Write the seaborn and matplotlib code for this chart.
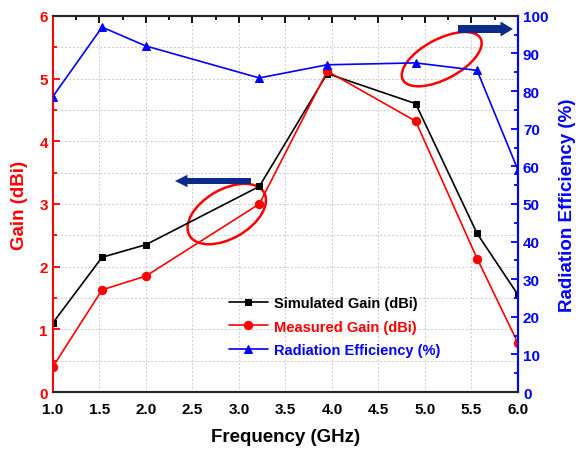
import numpy as np
import pandas as pd
import seaborn as sns
import matplotlib.pyplot as plt
import matplotlib.transforms as mtransforms
from matplotlib.patches import Ellipse

freq = [1.0, 1.53, 2.0, 3.22, 3.95, 4.9, 5.56, 6.0]
sim_gain = [1.1, 2.15, 2.35, 3.28, 5.08, 4.6, 2.53, 1.55]
meas_gain = [0.4, 1.63, 1.85, 3.0, 5.12, 4.32, 2.13, 0.78]
efficiency = [78.5, 97.0, 92.0, 83.5, 87.0, 87.5, 85.5, 59.0]

sns.set_style("white")
plt.rcParams['font.family'] = ['Liberation Sans', 'DejaVu Sans']
plt.rcParams['font.weight'] = 'bold'

fig = plt.figure(figsize=(5.86, 4.56), dpi=100)
ax = fig.add_axes([0.090, 0.138, 0.794, 0.825])
ax2 = ax.twinx()

df = pd.DataFrame({'f': freq, 'sim': sim_gain, 'meas': meas_gain, 'eff': efficiency})
sns.lineplot(data=df, x='f', y='sim', ax=ax, color='black', marker='s', markersize=5,
             markeredgecolor='black', lw=1.2, label='Simulated Gain (dBi)', legend=False)
sns.lineplot(data=df, x='f', y='meas', ax=ax, color='red', marker='o', markersize=6,
             markeredgecolor='red', lw=1.2, label='Measured Gain (dBi)', legend=False)
sns.lineplot(data=df, x='f', y='eff', ax=ax2, color='blue', marker='^', markersize=6,
             markeredgecolor='blue', lw=1.2, label='Radiation Efficiency (%)', legend=False)

ax.set_xlim(1.0, 6.0)
ax.set_ylim(0, 6)
ax2.set_ylim(0, 100)
ax.set_xticks(np.arange(1.0, 6.01, 0.5))
ax.set_xticks(np.arange(1.25, 6.0, 0.5), minor=True)
ax.set_yticks(range(0, 7))
ax.set_yticks(np.arange(0.5, 6, 1.0), minor=True)
ax2.set_yticks(range(0, 101, 10))
ax2.set_yticks(range(5, 100, 10), minor=True)

grid_kw = dict(color='#cccccc', ls=(0, (2, 2)), lw=0.7)
ax.grid(True, which='major', **grid_kw)
ax.yaxis.grid(True, which='minor', **grid_kw)
ax.set_axisbelow(True)

for a in (ax, ax2):
    for s in a.spines.values():
        s.set_linewidth(1.5)
ax.spines['left'].set_color('red')
ax.spines['bottom'].set_color('black')
ax.spines['top'].set_color('black')
ax2.spines['left'].set_visible(False)
ax2.spines['right'].set_color('blue')

ax.tick_params(axis='x', which='both', direction='in', top=True, length=5, width=1.3,
               labelsize=11, colors='black', pad=7)
ax.tick_params(axis='x', which='minor', length=3)
ax.tick_params(axis='y', which='both', direction='in', length=5, width=1.3,
               labelsize=11, colors='red')
ax.tick_params(axis='y', which='minor', length=3)
ax2.tick_params(axis='y', which='both', direction='in', length=5, width=1.3,
                labelsize=11, colors='blue')
ax2.tick_params(axis='y', which='minor', length=3)
for lbl in ax.get_xticklabels() + ax.get_yticklabels() + ax2.get_yticklabels():
    lbl.set_fontweight('bold')
ax.set_xticklabels([f'{v:.1f}' for v in np.arange(1.0, 6.01, 0.5)], fontweight='bold')

ax.set_xlabel('Frequency (GHz)', fontsize=13.5, fontweight='bold', color='black', labelpad=9)
ax.set_ylabel('Gain (dBi)', fontsize=13.5, fontweight='bold', color='red', labelpad=8)
ax2.set_ylabel('Radiation Efficiency (%)', fontsize=13.5, fontweight='bold', color='blue', labelpad=8)

h1, l1 = ax.get_legend_handles_labels()
h2, l2 = ax2.get_legend_handles_labels()
leg = ax.legend(h1 + h2, l1 + l2, loc='upper left', bbox_to_anchor=(0.35, 0.29),
                frameon=False, fontsize=10.5, handlelength=2.7, labelspacing=0.65,
                handletextpad=0.4)
for txt, c in zip(leg.get_texts(), ['black', 'red', 'blue']):
    txt.set_color(c)
    txt.set_fontweight('bold')

# annotations: ellipses (sized in inches, centred in data coords)
def add_ellipse(xc, yc, w_in, h_in, ang):
    tr = fig.dpi_scale_trans + mtransforms.ScaledTranslation(xc, yc, ax.transData)
    ax.add_patch(Ellipse((0, 0), width=w_in, height=h_in, angle=ang, transform=tr,
                         fill=False, edgecolor='red', lw=1.8, clip_on=False))

add_ellipse(2.87, 2.84, 0.86, 0.49, 30)
add_ellipse(5.18, 5.31, 0.88, 0.40, 28)

navy = '#0b2a8a'
ax.annotate('', xy=(175, 274), xytext=(251, 274), xycoords='figure pixels',
            textcoords='figure pixels',
            arrowprops=dict(arrowstyle='simple,head_length=0.9,head_width=0.9,tail_width=0.43',
                            mutation_scale=10, color=navy, lw=0, shrinkA=0, shrinkB=0))
ax.annotate('', xy=(513, 426), xytext=(458, 426), xycoords='figure pixels',
            textcoords='figure pixels',
            arrowprops=dict(arrowstyle='simple,head_length=0.9,head_width=1.08,tail_width=0.58',
                            mutation_scale=10, color=navy, lw=0, shrinkA=0, shrinkB=0))

fig.savefig('out.png', dpi=100)
